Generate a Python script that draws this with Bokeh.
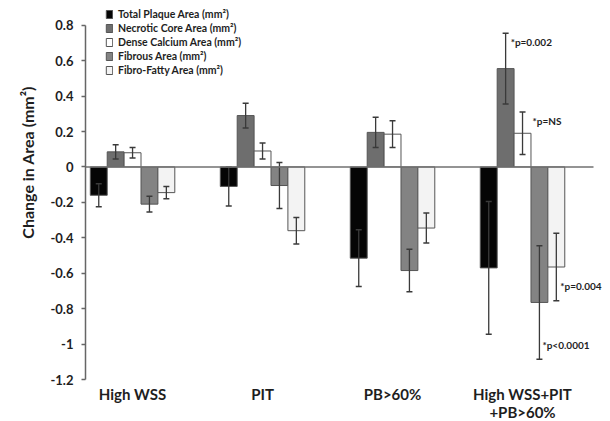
import math
from bokeh.plotting import figure
from bokeh.layouts import row
from bokeh.models import ColumnDataSource, Range1d, FixedTicker, Label
from bokeh.core.properties import value
from bokeh.embed import file_html
from bokeh.resources import INLINE

# ---- data ----
groups = ["High WSS", "PIT", "PB>60%", "High WSS+PIT\n+PB>60%"]
series_names = [
    "Total Plaque Area (mm²)",
    "Necrotic Core Area (mm²)",
    "Dense Calcium Area (mm²)",
    "Fibrous Area (mm²)",
    "Fibro-Fatty Area (mm²)",
]
total_plaque = [-0.16, -0.11, -0.515, -0.57]
total_plaque_err = [0.065, 0.11, 0.16, 0.375]
necrotic_core = [0.085, 0.29, 0.195, 0.555]
necrotic_core_err = [0.04, 0.07, 0.085, 0.2]
dense_calcium = [0.08, 0.09, 0.185, 0.19]
dense_calcium_err = [0.03, 0.045, 0.075, 0.12]
fibrous = [-0.21, -0.105, -0.585, -0.765]
fibrous_err = [0.045, 0.13, 0.12, 0.32]
fibro_fatty = [-0.145, -0.36, -0.345, -0.565]
fibro_fatty_err = [0.035, 0.075, 0.085, 0.19]

y_ticks = [-1.2, -1.0, -0.8, -0.6, -0.4, -0.2, 0.0, 0.2, 0.4, 0.6, 0.8]
y_tick_labels = ["-1.2", "-1", "-0.8", "-0.6", "-0.4", "-0.2", "0", "0.2", "0.4", "0.6", "0.8"]
y_title = "Change in Area (mm²)"

annot_texts = ["*p=0.002", "*p=NS", "*p=0.004", "*p<0.0001"]

values_list = [total_plaque, necrotic_core, dense_calcium, fibrous, fibro_fatty]
errs_list = [total_plaque_err, necrotic_core_err, dense_calcium_err, fibrous_err, fibro_fatty_err]
fills = ["#050505", "#6e6e6e", "#ffffff", "#838383", "#f3f3f3"]

FONT = "Lato"
INK = "#1e1e1e"
group_idx = list(range(len(groups)))

PX_PER_UNIT = 130.0
X0, X1 = -0.362, 3.546            # x extent of the drawn axis area
X_END = X1 + 17 / PX_PER_UNIT     # frame runs to the right edge so side notes are not clipped
yr = Range1d(-1.2, 0.9)

p = figure(
    x_range=Range1d(X0, X_END),
    y_range=yr,
    frame_width=525, frame_height=372,
    output_backend="svg", toolbar_location=None,
    min_border_left=45, min_border_right=0, min_border_top=7, min_border_bottom=42,
)
p.outline_line_color = None
p.grid.visible = False
p.background_fill_color = "white"

bar_w = 0.13
for i, (name, vals, errs, fc) in enumerate(zip(series_names, values_list, errs_list, fills)):
    off = (i - 2) * bar_w
    src = ColumnDataSource(dict(
        x=[g + off for g in group_idx], v=vals,
        up=[v + e for v, e in zip(vals, errs)],
        lo=[v - e for v, e in zip(vals, errs)],
    ))
    p.vbar(x="x", top="v", bottom=0, width=bar_w, source=src,
           fill_color=fc, line_color="#555555", line_width=1, legend_label=name)
    p.segment(x0="x", y0="lo", x1="x", y1="up", source=src, line_color="#3a3a3a", line_width=1.3)
    p.scatter(x="x", y="up", marker="dash", size=6, source=src, line_color="#3a3a3a", line_width=1.5)
    p.scatter(x="x", y="lo", marker="dash", size=6, source=src, line_color="#3a3a3a", line_width=1.5)

# zero line across the axis area
p.segment(x0=[X0], y0=[0], x1=[X1], y1=[0], line_color="#707070", line_width=1.5)

# p-value annotations on the last group
ann = [(1, "up", 5, -9), (2, "up", 10, -9), (4, "lo", 4, 15), (3, "lo", 3, 14)]
gi = len(groups) - 1
for txt, (si, end, xo, yo) in zip(annot_texts, ann):
    vals, errs = values_list[si], errs_list[si]
    yv = vals[gi] + errs[gi] if end == "up" else vals[gi] - errs[gi]
    p.add_layout(Label(x=gi + (si - 2) * bar_w, y=yv, text=txt,
                       x_offset=xo, y_offset=yo, text_font=FONT, text_font_size="10px",
                       text_font_style="bold", text_baseline="middle", text_align="left",
                       text_color=INK))

# y axis
yax = p.yaxis[0]
yax.bounds = (y_ticks[0], y_ticks[-1])
yax.ticker = FixedTicker(ticks=y_ticks)
yax.major_label_overrides = {t: l for t, l in zip(y_ticks, y_tick_labels)}
yax.minor_tick_line_color = None
yax.major_tick_in = 0
yax.major_tick_out = 4
yax.axis_line_color = "#666666"
yax.axis_line_width = 1.5
yax.major_tick_line_color = "#666666"
yax.major_tick_line_width = 1.5
yax.major_label_text_font = FONT
yax.major_label_text_font_style = "bold"
yax.major_label_text_font_size = "13px"
yax.major_label_text_color = INK
yax.major_label_standoff = 8

# x axis (group labels)
xax = p.xaxis[0]
xax.bounds = (X0, X1)
xax.ticker = FixedTicker(ticks=group_idx)
xax.major_label_overrides = {g: lab for g, lab in zip(group_idx, groups)}
xax.axis_line_color = None
xax.major_tick_line_color = None
xax.minor_tick_line_color = None
xax.major_tick_out = 0
xax.major_tick_in = 0
xax.major_label_standoff = 5
xax.major_label_text_font = FONT
xax.major_label_text_font_style = "bold"
xax.major_label_text_font_size = "15px"
xax.major_label_text_line_height = 1.0
xax.major_label_text_color = INK

# legend
lg = p.legend[0]
lg.location = (20, 303)
lg.padding = 0
lg.margin = 0
lg.spacing = 2
lg.border_line_color = None
lg.background_fill_alpha = 0
lg.glyph_width = 8
lg.glyph_height = 10
lg.label_height = 11
lg.label_standoff = 5
lg.label_text_font = FONT
lg.label_text_font_style = "bold"
lg.label_text_font_size = "10.5px"
lg.label_text_color = INK

# y-axis title in its own narrow panel, sharing the y scale
t = figure(
    x_range=Range1d(0, 40), y_range=yr,
    frame_width=40, frame_height=372,
    output_backend="svg", toolbar_location=None,
    x_axis_location=None, y_axis_location=None,
    min_border_left=0, min_border_right=0, min_border_top=7, min_border_bottom=42,
)
t.outline_line_color = None
t.grid.visible = False
t.text(x=[27], y=[0.026], text=[y_title], angle=math.pi / 2,
       text_align="center", text_baseline="middle", text_font=value(FONT),
       text_font_size="16px", text_font_style="bold", text_color=INK)

layout = row(t, p)
open("out.html", "w").write(file_html(layout, INLINE))
